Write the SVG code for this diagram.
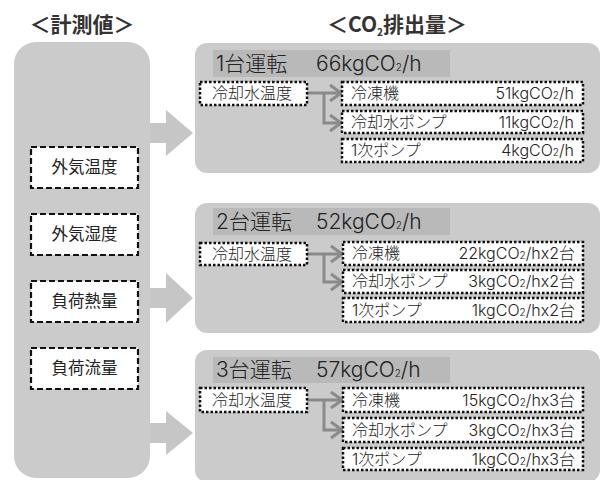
<svg xmlns="http://www.w3.org/2000/svg" width="603" height="480" viewBox="0 0 603 480">
<defs>
<style>
text{font-family:Inter,"Noto Sans CJK JP","Liberation Sans",sans-serif;fill:#222;font-weight:300}
.title{font-size:21px;font-weight:bold;fill:#333;font-family:"Noto Sans CJK JP",sans-serif}
.panel{fill:#cbcbcb}
.band{fill:#b9b9b9}
.hdr{font-size:21px;fill:#222}
.meas{fill:#fff;stroke:#111;stroke-width:2.2;stroke-dasharray:6 3}
.mt{font-size:16.5px;text-anchor:middle;font-weight:normal}
.dot{fill:#fff;stroke:#111;stroke-width:2.5;stroke-dasharray:2.5 2}
.bt{font-size:16px}
.val{font-size:16px;text-anchor:end}
.sub{font-size:10px}
.con{fill:none;stroke:#8a8a8a;stroke-width:3}
.big{fill:#c6c6c6}
</style>
</defs>
<rect width="603" height="480" fill="#fff"/>
<text class="title" x="82" y="32" text-anchor="middle">＜計測値＞</text>
<text class="title" x="397" y="32" text-anchor="middle">＜CO<tspan class="sub" dy="4">2</tspan><tspan dy="-4">排出量＞</tspan></text>

<g id="measurements">
<rect class="panel" x="14" y="42" width="136" height="436" rx="22"/>
<g id="m1"><rect class="meas" x="31" y="147" width="107" height="41"/><text class="mt" x="84.5" y="173">外気温度</text></g>
<g id="m2"><rect class="meas" x="31" y="214" width="107" height="41"/><text class="mt" x="84.5" y="240">外気湿度</text></g>
<g id="m3"><rect class="meas" x="31" y="281" width="107" height="41"/><text class="mt" x="84.5" y="307">負荷熱量</text></g>
<g id="m4"><rect class="meas" x="31" y="348" width="107" height="41"/><text class="mt" x="84.5" y="374">負荷流量</text></g>
</g>

<g id="connectors">
<polygon class="big" points="150,123 166,123 166,110 193,133 166,156 166,143 150,143"/>
<polygon class="big" points="150,288 166,288 166,273 193,298 166,323 166,308 150,308"/>
<polygon class="big" points="150,423 166,423 166,411 193,433 166,455 166,443 150,443"/>
</g>

<g id="case1">
<rect class="panel" x="195" y="43" width="405" height="130" rx="12"/>
<rect class="band" x="213" y="50" width="237" height="27"/>
<text class="hdr" x="216" y="71">1台運転</text>
<text class="hdr" x="316" y="71">66kgCO<tspan class="sub" font-size="13">2</tspan>/h</text>
<path class="con" d="M307,93 H340 M324,93 V123 H340"/>
<path class="con" d="M330,85 L341,93 L330,101 M330,115 L341,123 L330,131"/>
<rect class="dot" x="200" y="82" width="107" height="23"/><text class="bt" x="212" y="99">冷却水温度</text>
<rect class="dot" x="342" y="82" width="241" height="23"/><text class="bt" x="351" y="99">冷凍機</text><text class="val" x="574" y="99">51kgCO<tspan class="sub">2</tspan>/h</text>
<rect class="dot" x="342" y="111" width="241" height="22"/><text class="bt" x="351" y="128">冷却水ポンプ</text><text class="val" x="574" y="128">11kgCO<tspan class="sub">2</tspan>/h</text>
<rect class="dot" x="342" y="139" width="241" height="23"/><text class="bt" x="351" y="156">1次ポンプ</text><text class="val" x="574" y="156">4kgCO<tspan class="sub">2</tspan>/h</text>
</g>

<g id="case2">
<rect class="panel" x="195" y="203" width="405" height="130" rx="12"/>
<rect class="band" x="213" y="208" width="237" height="27"/>
<text class="hdr" x="216" y="229">2台運転</text>
<text class="hdr" x="316" y="229">52kgCO<tspan class="sub" font-size="13">2</tspan>/h</text>
<path class="con" d="M307,254 H341 M324,254 V282 H341"/>
<path class="con" d="M331,246 L342,254 L331,262 M331,274 L342,282 L331,290"/>
<rect class="dot" x="200" y="243" width="107" height="22"/><text class="bt" x="212" y="260">冷却水温度</text>
<rect class="dot" x="343" y="242" width="240" height="23"/><text class="bt" x="352" y="259">冷凍機</text><text class="val" x="575" y="259">22kgCO<tspan class="sub">2</tspan>/hx2台</text>
<rect class="dot" x="343" y="270" width="240" height="23"/><text class="bt" x="352" y="287">冷却水ポンプ</text><text class="val" x="575" y="287">3kgCO<tspan class="sub">2</tspan>/hx2台</text>
<rect class="dot" x="343" y="298" width="240" height="24"/><text class="bt" x="352" y="316">1次ポンプ</text><text class="val" x="575" y="316">1kgCO<tspan class="sub">2</tspan>/hx2台</text>
</g>

<g id="case3">
<rect class="panel" x="195" y="350" width="405" height="132" rx="12"/>
<rect class="band" x="213" y="357" width="237" height="26"/>
<text class="hdr" x="216" y="377">3台運転</text>
<text class="hdr" x="316" y="377">57kgCO<tspan class="sub" font-size="13">2</tspan>/h</text>
<path class="con" d="M307,400 H341 M324,400 V430 H341"/>
<path class="con" d="M331,392 L342,400 L331,408 M331,422 L342,430 L331,438"/>
<rect class="dot" x="200" y="388" width="107" height="24"/><text class="bt" x="212" y="406">冷却水温度</text>
<rect class="dot" x="343" y="388" width="240" height="24"/><text class="bt" x="352" y="406">冷凍機</text><text class="val" x="575" y="406">15kgCO<tspan class="sub">2</tspan>/hx3台</text>
<rect class="dot" x="343" y="418" width="240" height="24"/><text class="bt" x="352" y="436">冷却水ポンプ</text><text class="val" x="575" y="436">3kgCO<tspan class="sub">2</tspan>/hx3台</text>
<rect class="dot" x="343" y="448" width="240" height="22"/><text class="bt" x="352" y="465">1次ポンプ</text><text class="val" x="575" y="465">1kgCO<tspan class="sub">2</tspan>/hx3台</text>
</g>
</svg>
